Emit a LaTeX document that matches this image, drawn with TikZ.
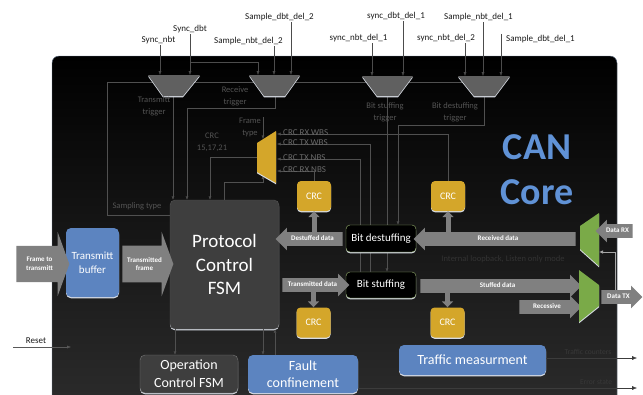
\documentclass[tikz,border=0pt]{standalone}
\usepackage{fontspec}
\setmainfont{Carlito}
\usetikzlibrary{arrows.meta,shapes.arrows,calc}

\definecolor{panelbot}{RGB}{44,44,44}
\definecolor{panelrim}{RGB}{120,138,160}
\definecolor{faintline}{RGB}{80,80,80}
\definecolor{fainttext}{RGB}{84,84,84}
\definecolor{crclabel}{RGB}{105,105,105}
\definecolor{muxgray}{RGB}{96,96,96}
\definecolor{crcyellow}{RGB}{212,166,42}
\definecolor{fsmgray}{RGB}{62,62,62}
\definecolor{fsmedge}{RGB}{85,85,85}
\definecolor{opedge}{RGB}{120,120,120}
\definecolor{boxblue}{RGB}{92,132,192}
\definecolor{canblue}{RGB}{96,146,214}
\definecolor{muxgreen}{RGB}{122,170,72}
\definecolor{stuffedge}{RGB}{150,178,110}
\definecolor{fatgray}{RGB}{128,128,128}
\definecolor{rimgray}{RGB}{215,220,228}
\definecolor{outline}{RGB}{60,60,60}

\tikzset{
  rim/.style={preaction={fill=rimgray, transform canvas={yshift=-1.3pt}}},
  crc/.style={rim, fill=crcyellow, rounded corners=4pt, minimum width=34pt, minimum height=30pt, text=white, font=\fontsize{10}{12}\selectfont},
  blockbox/.style={rim, rounded corners=5pt, text=white, align=center, inner sep=1pt},
  stuffbox/.style={rim, fill=black, draw=stuffedge, rounded corners=4pt, minimum width=70pt, text=white, font=\fontsize{11}{13}\selectfont},
  fat/.style={single arrow, fill=fatgray, text=white, font=\fontsize{7}{8}\selectfont\bfseries, text height=4.8pt, text depth=1.4pt, inner xsep=0pt, inner ysep=3.5pt, single arrow head extend=4.5pt, minimum height=#1},
  bigfat/.style={single arrow, fill=fatgray, text=white, font=\fontsize{7}{8.5}\selectfont\bfseries, align=center, inner xsep=0pt, inner ysep=11.5pt, single arrow head extend=14pt, single arrow tip angle=140, minimum height=#1},
  stub/.style={draw=fatgray, line width=5pt, -{Triangle[width=11pt,length=6pt]}},
  sig/.style={draw=black!70, -{Latex[length=4pt,width=3pt]}},
  faint/.style={draw=faintline, -{Latex[length=3.5pt,width=3pt]}},
  ftext/.style={text=fainttext, font=\fontsize{8.5}{12}\selectfont, align=center, inner sep=1pt},
  lbl/.style={text=black!90, font=\fontsize{9}{10}\selectfont, inner sep=1pt},
  mux/.style={rim, fill=muxgray},
  outarrow/.style={draw=outline, -{Latex[length=5pt,width=4pt]}},
}

\begin{document}
\begin{tikzpicture}[x=1pt,y=-1pt]
\useasboundingbox (0,0) rectangle (643,394);
% core panel
\fill[top color=black, bottom color=panelbot, rounded corners=7pt] (52,56) rectangle (617,412);
\draw[panelrim, rounded corners=7pt] (52,56) rectangle (617,412);

% blocks
\node[blockbox, fill=fsmgray, draw=fsmedge, minimum width=109pt, minimum height=129pt, font=\fontsize{19}{23.5}\selectfont] (pcf) at (224.5,264.5) {Protocol\\Control\\FSM};
\node[blockbox, fill=boxblue, minimum width=53pt, minimum height=69pt, font=\fontsize{11}{14}\selectfont] (tbuf) at (92.5,262.5) {Transmitt\\buffer};
\node[stuffbox, minimum height=26pt] (bstuff) at (381,285) {Bit stuffing};
\node[crc] (crc1) at (314,196) {CRC};
\node[crc] (crc2) at (448,196) {CRC};
\node[crc] (crc3) at (313.5,322.5) {CRC};
\node[crc] (crc4) at (447.5,322.5) {CRC};
\node[blockbox, fill=fsmgray, draw=opedge, minimum width=98pt, minimum height=38pt, font=\fontsize{14}{18}\selectfont] (opfsm) at (189,374) {Operation\\Control FSM};
\node[blockbox, fill=boxblue, minimum width=110pt, minimum height=38pt, font=\fontsize{14}{17}\selectfont] (fault) at (303,374) {Fault\\confinement};
\node[blockbox, fill=boxblue, minimum width=147pt, minimum height=30pt, font=\fontsize{14}{17}\selectfont] (traffic) at (472.5,360) {Traffic measurment};
\node[text=canblue, font=\fontsize{38}{45}\selectfont\bfseries, align=center] (cancore) at (537,170) {CAN\\Core};

% mux pins
\coordinate (tx-in1) at (160,75);
\coordinate (tx-in2) at (190,75);
\coordinate (tx-out) at (173,96);
\coordinate (rx-in1) at (258,75);
\coordinate (rx-in2) at (274,75);
\coordinate (rx-in3) at (291,75);
\coordinate (rx-out) at (275,96);
\coordinate (rx-turn) at (187,108);
\coordinate (bs-in1) at (372,76);
\coordinate (bs-in2) at (403,76);
\coordinate (bs-out) at (387,96);
\coordinate (bd-in1) at (465,76);
\coordinate (bd-in2) at (483,76);
\coordinate (bd-in3) at (501,76);
\coordinate (bd-out) at (484,96);
\coordinate (bd-turn) at (398,125);
\coordinate (cm-top) at (263,139);
\coordinate (cm-bot) at (263,175.5);
\coordinate (cm-out) at (257,157);
\coordinate (cm-in1) at (277,134);
\coordinate (cm-in2) at (277,144);
\coordinate (cm-in3) at (277,159);
\coordinate (cm-in4) at (277,171);
\coordinate (txw) at (370,144);
\coordinate (txn) at (360,159);
\coordinate (ft) at (263,117);
\coordinate (st) at (107,215);
\coordinate (st-end) at (466,82);

% faint control lines
\draw[faint,-] (pcf.west |- st) -- (st) |- (st-end);
\draw[faint] (tx-out) -- (tx-out |- pcf.north);
\draw[faint] (rx-out) |- (rx-turn) -- (rx-turn |- pcf.north);
\draw[faint] (ft) -- (cm-top);
\draw[faint] (cm-out) -| ([xshift=-14.5pt]pcf.north);
\draw[faint] (pcf.north) |- ([yshift=-6.5pt]cm-bot) -- (cm-bot);
\draw[faint] (crc2.north) |- (cm-in1);
\draw[faint] (bstuff.north -| txw) |- (cm-in2);
\draw[faint] (bstuff.north -| txn) |- (cm-in3);
\draw[faint] (crc1.north) |- (cm-in4);
\draw[faint] (bs-out) -- (bs-out |- bstuff.north);
\draw[faint] ([xshift=-14pt]opfsm.north |- pcf.south) -- ([xshift=-14pt]opfsm.north);
\draw[faint] ([xshift=-40pt]fault.north |- pcf.south) -- ([xshift=-40pt]fault.north);
\draw[faint] ([xshift=-28pt]fault.north) -- ([xshift=-28pt]fault.north |- pcf.south);

\node[stuffbox, minimum height=27pt] (bdestuff) at (381,238.5) {Bit destuffing};
\draw[faint] (bd-out) |- (bd-turn) -- (bd-turn |- bdestuff.north);

% trigger muxes
\fill[mux] (148,75) -- (200,75) -- (183,96) -- (163,96) -- cycle;
\fill[mux] (249,75) -- (300,75) -- (285,96) -- (264,96) -- cycle;
\fill[mux] (362,76) -- (413,76) -- (398,96) -- (377,96) -- cycle;
\fill[mux] (458,76) -- (510,76) -- (495,96) -- (474,96) -- cycle;
% crc mux
\fill[rim, fill=crcyellow] (257,143) -- (276,131) -- (276,183) -- (257,172) -- cycle;

% timing inputs
\node[lbl] (snbt) at (158.5,40) {Sync\_nbt};
\node[lbl] (sdbt) at (190,29) {Sync\_dbt};
\node[lbl] (snd2) at (248.5,41) {Sample\_nbt\_del\_2};
\node[lbl] (sdd2) at (279.5,17) {Sample\_dbt\_del\_2};
\node[lbl] (ynd1) at (358.5,38) {sync\_nbt\_del\_1};
\node[lbl] (ydd1) at (396,16) {sync\_dbt\_del\_1};
\node[lbl] (ynd2) at (446,38) {sync\_nbt\_del\_2};
\node[lbl] (snd1) at (478.5,17) {Sample\_nbt\_del\_1};
\node[lbl] (sdd1) at (540.5,39) {Sample\_dbt\_del\_1};
\draw[sig] (snbt.south -| tx-in1) -- (tx-in1);
\draw[sig] (sdbt.south -| tx-in2) -- (tx-in2);
\draw[sig] ([yshift=13pt]tx-in2) -| (rx-in1);
\draw[sig] (snd2.south -| rx-in2) -- (rx-in2);
\draw[sig] (sdd2.south -| rx-in3) -- (rx-in3);
\draw[sig] (ynd1.south -| bs-in1) -- (bs-in1);
\draw[sig] (ydd1.south -| bs-in2) -- (bs-in2);
\draw[sig] (ynd2.south -| bd-in1) -- (bd-in1);
\draw[sig] (snd1.south -| bd-in2) -- (bd-in2);
\draw[sig] (sdd1.north west -| bd-in3) -- (bd-in3);

% data path
\node[bigfat=53pt] (ftt) at (39.5,264) {Frame to\\transmitt};
\node[bigfat=51pt] (tfr) at (144.5,264) {Transmitted\\frame};
\node[fat=67pt, shape border rotate=180] (dsd) at (312.5,239) {Destuffed data};
\node[fat=162pt, shape border rotate=180] (rcv) at (498,239) {Received data};
\node[fat=67pt] (tsd) at (312.5,285) {Transmitted data};
\node[fat=161pt] (sfd) at (497.5,286) {Stuffed data};
\node[fat=62pt] (rec) at (547,307) {Recessive};
\draw[stub] (dsd.north -| crc1) -- (crc1.south);
\draw[stub] (rcv.north -| crc2) -- (crc2.south);
\draw[stub] (tsd.south -| crc3) -- (crc3.north);
\draw[stub] (sfd.south -| crc4) -- (crc4.north);

% bus muxes
\coordinate (lb) at (615,297);
\coordinate (rxm-lb) at (599,252);
\draw[draw=black!35, line width=0.8pt, -{Latex[length=4pt,width=3.5pt]}] (lb) |- (rxm-lb);
\fill[rim, fill=muxgreen] (580,226) -- (599,213) -- (599,266) -- (580,249) -- cycle;
\fill[rim, fill=muxgreen] (579,270) -- (599,285) -- (599,306) -- (579,322) -- cycle;
\node[fat=37pt, shape border rotate=180] (drx) at (617.5,231) {Data RX};
\node[fat=41pt] (dtx) at (618.5,297) {Data TX};

% reset and outputs
\coordinate (rst-in) at (13,347);
\coordinate (rst-end) at (71,347);
\coordinate (tc-end) at (637,358);
\coordinate (es-end) at (637,388);
\node[lbl, anchor=south] (rst) at (36,345) {Reset};
\draw[draw=black!65, -{Latex[length=4pt,width=3pt]}] (rst-in) -- (rst-end);
\draw[outarrow] ([yshift=2pt]traffic.east) -- (tc-end);
\draw[outarrow] (fault.east |- es-end) -- (es-end);

% faint labels
\node[ftext] (l-txtrig) at (154,106.5) {Transmitt\\trigger};
\node[ftext] (l-rxtrig) at (235,96) {Receive\\trigger};
\node[ftext] (l-ftype) at (250,127.5) {Frame\\type};
\node[ftext] (l-crcpoly) at (212,142.5) {CRC\\15,17,21};
\node[ftext] (l-samp) at (137,206) {Sampling type};
\node[ftext] (l-bstrig) at (385,112.5) {Bit stuffing\\trigger};
\node[ftext] (l-bdtrig) at (455,112.5) {Bit destuffing\\trigger};
\node[ftext, text=crclabel, font=\fontsize{9}{11}\selectfont, anchor=base west] (l-rxw) at (282,135) {CRC RX WBS};
\node[ftext, text=crclabel, font=\fontsize{9}{11}\selectfont, anchor=base west] (l-txw) at (282,145.5) {CRC TX WBS};
\node[ftext, text=crclabel, font=\fontsize{9}{11}\selectfont, anchor=base west] (l-txn) at (282,160) {CRC TX NBS};
\node[ftext, text=crclabel, font=\fontsize{9}{11}\selectfont, anchor=base west] (l-rxn) at (282,172) {CRC RX NBS};
\node[ftext, text=black!80] (l-loop) at (503,259) {Internal loopback, Listen only mode};
\node[ftext, text=black!78, font=\fontsize{7.5}{9}\selectfont] (l-tc) at (588,352) {Traffic counters};
\node[ftext, text=black!78, font=\fontsize{7.5}{9}\selectfont] (l-es) at (596,382) {Error state};
\end{tikzpicture}
\end{document}
